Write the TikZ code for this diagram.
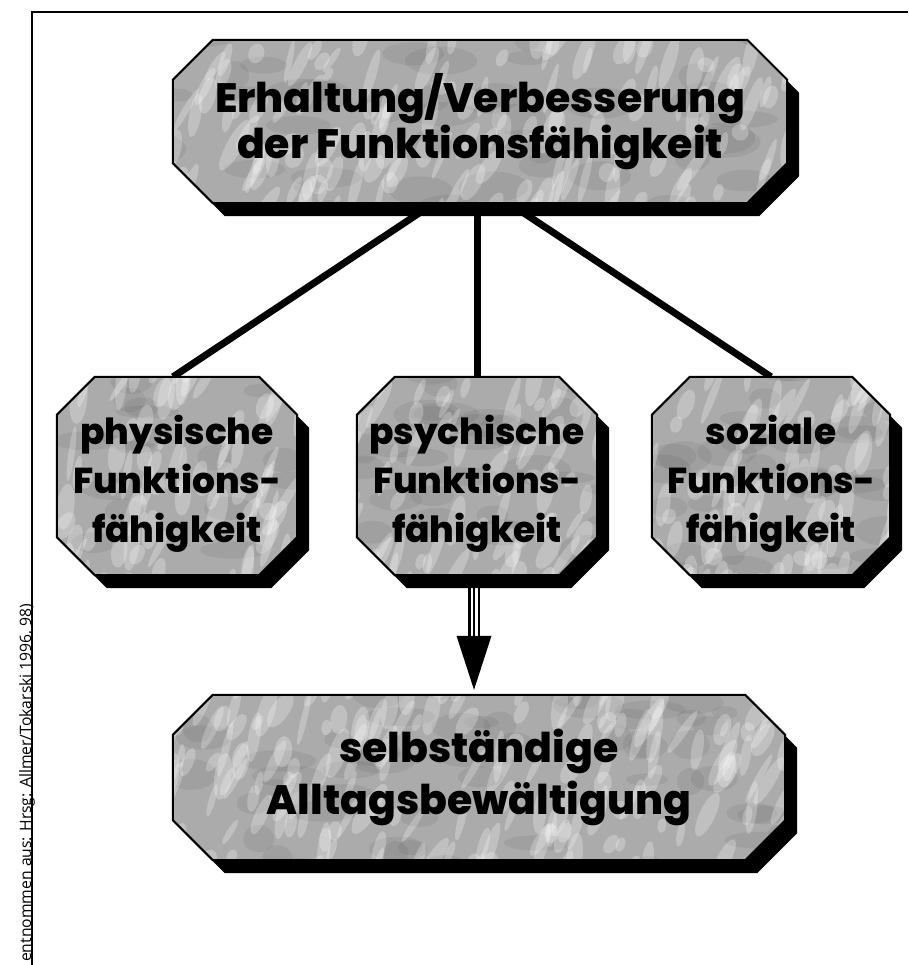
\documentclass[tikz,border=0pt]{standalone}
\usepackage{fontspec}
\setmainfont{Poppins}
\newfontfamily\heavyfont{Poppins ExtraBold}
\newfontfamily\sidefont{Open Sans}
\usetikzlibrary{calc}
\pgfdeclarelayer{lines}
\pgfdeclarelayer{boxes}
\pgfsetlayers{lines,boxes,main}
\definecolor{boxgray}{gray}{0.67}
\tikzset{
  boxnode/.style={rectangle, inner sep=0pt},
  bigtext/.style={align=center, inner sep=0pt, font=\heavyfont\fontsize{41}{46}\selectfont},
  bottext/.style={align=center, inner sep=0pt, font=\heavyfont\fontsize{41}{52}\selectfont},
  smalltext/.style={align=center, inner sep=0pt, yshift=-8pt, font=\heavyfont\fontsize{36}{49}\selectfont},
  boxedge/.style={draw=black, line width=2pt, line join=miter},
  boxshadow/.style={fill=black},
  link/.style={line width=7pt, draw=black},
  blob/.style={fill=white, opacity=0.25},
  darkblob/.style={fill=black, opacity=0.06},
}
% octagon path round node #1, chamfer #2, offset (#3,#4)
\newcommand\octpath[4]{%
  ($(#1.north west)+(#2+#3,#4)$) -- ($(#1.north east)+(-#2+#3,#4)$) -- ($(#1.north east)+(#3,#2+#4)$) --
  ($(#1.south east)+(#3,-#2+#4)$) -- ($(#1.south east)+(-#2+#3,#4)$) -- ($(#1.south west)+(#2+#3,#4)$) --
  ($(#1.south west)+(#3,-#2+#4)$) -- ($(#1.north west)+(#3,#2+#4)$) -- cycle }
\begin{document}
\begin{tikzpicture}[x=1pt,y=-1pt]
\useasboundingbox (0,0) rectangle (908,965);
% frame
\draw[line width=2.5pt] (32,965) -- (32,12) -- (908,12);
\node[font=\sidefont\fontsize{15.7}{18}\selectfont, rotate=90, anchor=base west, inner sep=0pt] (src) at (31,962) {entnommen aus: Hrsg: Allmer/Tokarski 1996, 98)};
% boxes
\node[boxnode, minimum width=614pt, minimum height=163pt,
      label={[bigtext]center:{Erhaltung/Verbesserung\\der Funktionsfähigkeit}}] (top) at (480,121.5) {};
\node[boxnode, minimum width=240pt, minimum height=198pt,
      label={[smalltext]center:{physische\\Funktions-\\fähigkeit}}] (phys) at (177,476) {};
\node[boxnode, minimum width=240pt, minimum height=198pt,
      label={[smalltext]center:{psychische\\Funktions-\\fähigkeit}}] (psych) at (477,476) {};
\node[boxnode, minimum width=238pt, minimum height=198pt,
      label={[smalltext]center:{soziale\\Funktions-\\fähigkeit}}] (soz) at (771,476) {};
\node[boxnode, minimum width=612pt, minimum height=165pt,
      label={[bottext]center:{selbständige\\Alltagsbewältigung}}] (bot) at (479,777.5) {};
\begin{pgfonlayer}{boxes}
\foreach \n/\c in {top/40, phys/38, psych/38, soz/38, bot/40} {
  \fill[boxshadow] \octpath{\n}{\c}{12}{13};
  \fill[boxgray] \octpath{\n}{\c}{0}{0};
}
\begin{scope}
  \clip \octpath{top}{40}{0}{0} \octpath{phys}{38}{0}{0} \octpath{psych}{38}{0}{0}
        \octpath{soz}{38}{0}{0} \octpath{bot}{40}{0}{0};
  \pgfmathsetseed{4711}
  \foreach \i in {1,...,300} {
    \pgfmathsetmacro\bx{50+850*rnd}
    \pgfmathsetmacro\by{35+840*rnd}
    \pgfmathsetmacro\ra{12+26*rnd}
    \pgfmathsetmacro\rb{6+10*rnd}
    \fill[darkblob] (\bx,\by) ellipse [x radius=\ra, y radius=\rb];
  }
  \foreach \i in {1,...,1000} {
    \pgfmathsetmacro\bx{50+850*rnd}
    \pgfmathsetmacro\by{35+840*rnd}
    \pgfmathsetmacro\ra{7+22*rnd}
    \pgfmathsetmacro\rb{3+6*rnd}
    \pgfmathsetmacro\ang{55+30*rnd}
    \fill[blob, rotate around={\ang:(\bx,\by)}] (\bx,\by) ellipse [x radius=\ra, y radius=\rb];
  }
\end{scope}
\foreach \n/\c in {top/40, phys/38, psych/38, soz/38, bot/40} {
  \draw[boxedge] \octpath{\n}{\c}{0}{0};
}
\end{pgfonlayer}
% connectors
\begin{pgfonlayer}{lines}
\draw[link] ($(top.south)+(-46,0)$) -- ($(phys.north)+(-4,0)$);
\draw[link] (top.south -| psych.north) -- (psych.north);
\draw[link] ($(top.south)+(29,0)$) -- (soz.north);
\coordinate (tip) at ($(bot.north -| psych.south)+(-3,-5)$);
\coordinate (ab) at ($(tip)+(0,-54)$);
\coordinate (as) at (psych.south -| tip);
\draw[line width=12pt] (as) -- ($(ab)+(0,1)$);
\draw[line width=7pt, white] (as) -- (ab);
\draw[line width=2.5pt] (as) -- ($(ab)+(0,1)$);
\end{pgfonlayer}
\fill (ab) ++(-17.5,0) -- ++(35,0) -- (tip) -- cycle;
\end{tikzpicture}
\end{document}
